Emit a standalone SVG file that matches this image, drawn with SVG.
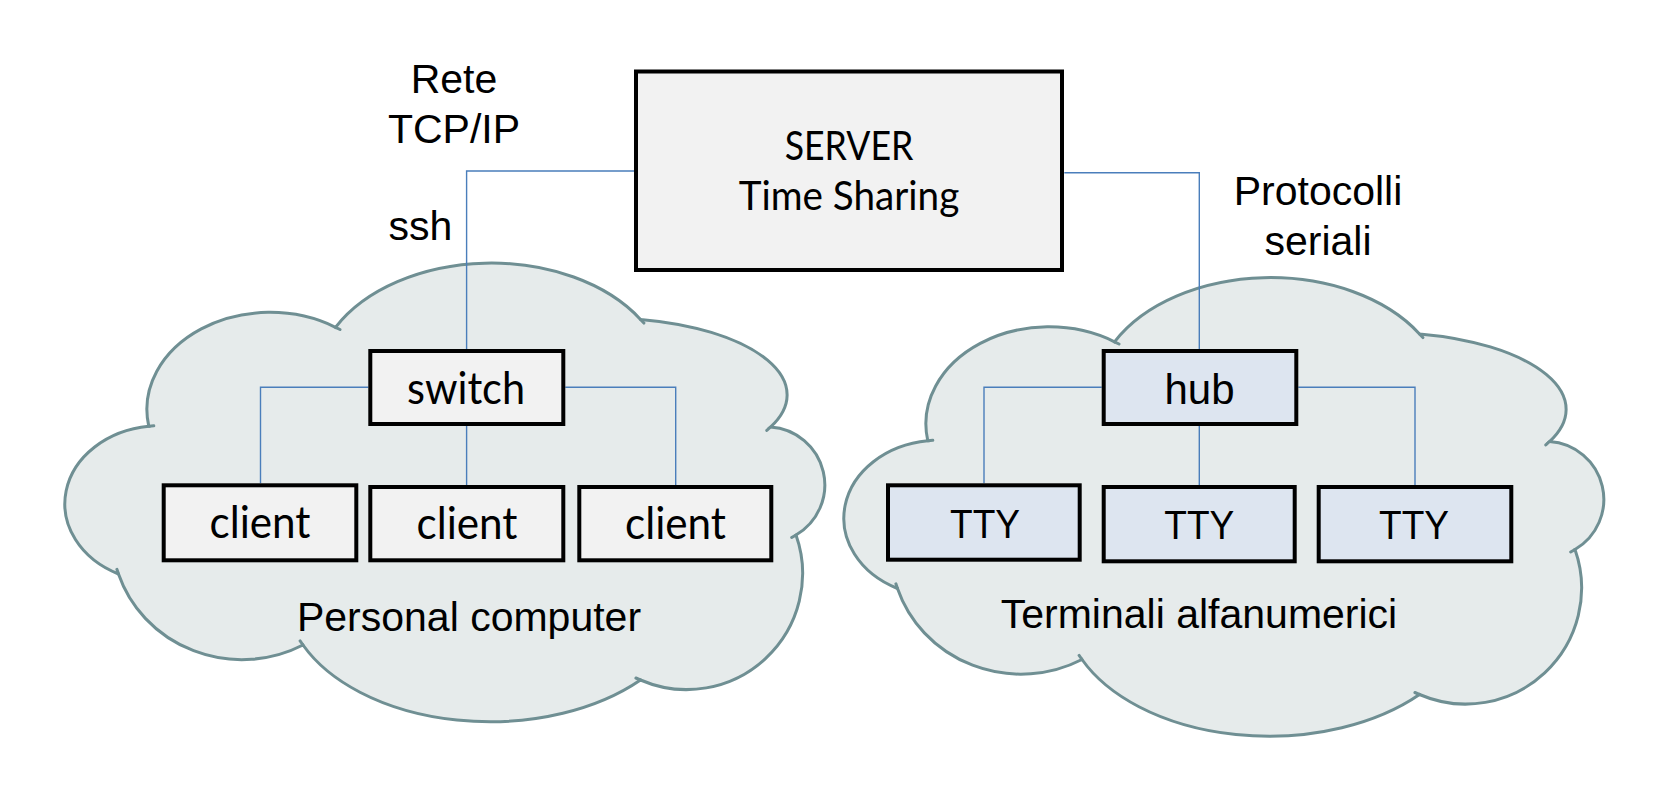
<svg xmlns="http://www.w3.org/2000/svg" xmlns:xlink="http://www.w3.org/1999/xlink" width="1678" height="806" viewBox="0 0 1678 806">
<style>
.cloud{fill:#e6ebeb;stroke:#6f8f93;stroke-width:3}
.spur{fill:none;stroke:#6f8f93;stroke-width:3;stroke-linecap:round}
.box{stroke:#000;stroke-width:4}
.grey{fill:#f2f2f2}
.blue{fill:#dde5f0}
.conn{fill:none;stroke:#4a7ebb;stroke-width:1.4}
.lbl{font-family:"Liberation Sans",Arial,sans-serif;font-size:41px;fill:#000;text-anchor:middle}
.cal{font-family:Lato,"Open Sans",sans-serif;fill:#000;text-anchor:middle}
</style>
<defs>
<g id="cloudShape">
<path class="cloud" d="M335.5,327.3 A176,120 0 0 1 640.5,319.4 A182.5,77 0 0 1 770.5,427 A58,58 0 0 1 796,535 A116,116 0 0 1 640.5,680 A205,130 0 0 1 303,645 A130,125 0 0 1 118.5,574 A95,78 0 0 1 148.8,426.3 A123,97 0 0 1 335.5,327.3 Z"/>
<path class="spur" d="M640.5,319.4 L643.9,323.1 M770.5,427 L766.8,430.4 M796,535 L791.7,537.5 M640.5,680 L635.9,678 M303,645 L300.1,640.9 M118.5,574 L116.9,569.3 M148.8,426.3 L153.8,425.8 M335.5,327.3 L340,329.5"/>
</g>
</defs>
<rect width="1678" height="806" fill="#fff"/>
<g id="cloud-pc">
<use xlink:href="#cloudShape"/>
<text class="lbl" x="469" y="630.7">Personal computer</text>
</g>
<g id="cloud-tty">
<use xlink:href="#cloudShape" transform="translate(779,14.5)"/>
<text class="lbl" x="1199" y="628.3">Terminali alfanumerici</text>
</g>
<g id="connectors">
<path class="conn" d="M634,171 H466.6 V349"/>
<path class="conn" d="M1064.3,172.7 H1199.3 V349"/>
<path class="conn" d="M368.3,387.3 H260.5 V483.3"/>
<path class="conn" d="M466.6,426 V485"/>
<path class="conn" d="M565.3,387.3 H675.7 V485"/>
<path class="conn" d="M1101.7,387.3 H984 V483.3"/>
<path class="conn" d="M1199.3,426 V485"/>
<path class="conn" d="M1298.3,387.3 H1415 V485"/>
</g>
<g id="label-tcp">
<text class="lbl" x="454" y="93.3">Rete</text>
<text class="lbl" x="454" y="143.3">TCP/IP</text>
<text class="lbl" x="420.5" y="240">ssh</text>
</g>
<g id="label-serial">
<text class="lbl" x="1318" y="205">Protocolli</text>
<text class="lbl" x="1318" y="255">seriali</text>
</g>
<g id="server">
<rect class="box grey" x="636" y="71.5" width="426" height="198.5"/>
<text class="cal" x="849" y="160" font-size="40" textLength="128.6" lengthAdjust="spacingAndGlyphs">SERVER</text>
<text class="cal" x="849" y="210" font-size="40" textLength="220.6" lengthAdjust="spacingAndGlyphs">Time Sharing</text>
</g>
<g id="switch">
<rect class="box grey" x="370.3" y="351" width="193" height="73"/>
<text class="cal" x="466" y="404" font-size="44" textLength="118" lengthAdjust="spacingAndGlyphs">switch</text>
</g>
<g id="client1">
<rect class="box grey" x="163.7" y="485.3" width="192.6" height="75"/>
<text class="cal" x="260" y="538.3" font-size="44" textLength="101" lengthAdjust="spacingAndGlyphs">client</text>
</g>
<g id="client2">
<rect class="box grey" x="370.3" y="487" width="193" height="73.3"/>
<text class="cal" x="467" y="539" font-size="44" textLength="101" lengthAdjust="spacingAndGlyphs">client</text>
</g>
<g id="client3">
<rect class="box grey" x="579.3" y="487" width="192" height="73.3"/>
<text class="cal" x="675.5" y="539" font-size="44" textLength="101" lengthAdjust="spacingAndGlyphs">client</text>
</g>
<g id="hub">
<rect class="box blue" x="1103.7" y="351" width="192.6" height="73"/>
<text class="lbl" x="1199.5" y="404" style="font-size:42px">hub</text>
</g>
<g id="tty1">
<rect class="box blue" x="888" y="485.3" width="191.7" height="74.4"/>
<text class="lbl" x="985" y="538.3" style="font-size:41px" textLength="70" lengthAdjust="spacingAndGlyphs">TTY</text>
</g>
<g id="tty2">
<rect class="box blue" x="1103.7" y="487" width="191" height="74.3"/>
<text class="lbl" x="1199.3" y="539" style="font-size:41px" textLength="70" lengthAdjust="spacingAndGlyphs">TTY</text>
</g>
<g id="tty3">
<rect class="box blue" x="1318.7" y="487" width="192.6" height="74.3"/>
<text class="lbl" x="1414" y="539" style="font-size:41px" textLength="70" lengthAdjust="spacingAndGlyphs">TTY</text>
</g>
</svg>
